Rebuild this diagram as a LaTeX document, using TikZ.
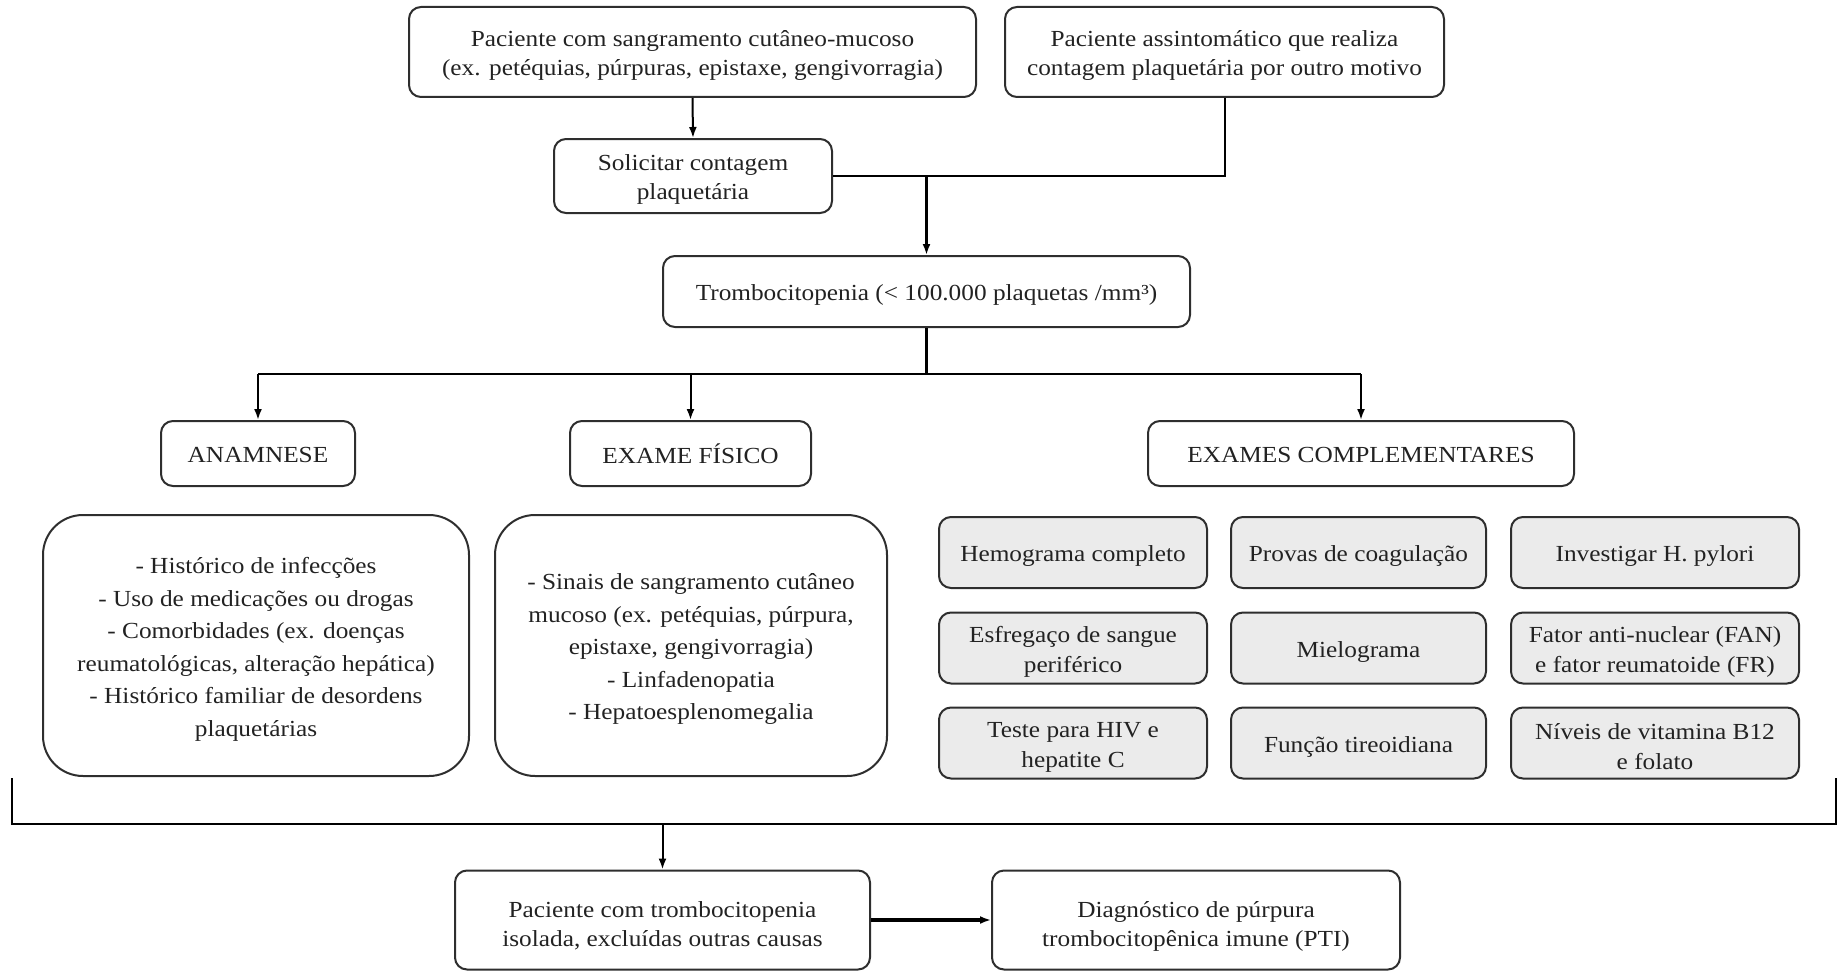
\documentclass[tikz,border=0pt]{standalone}
\usepackage{fontspec}
\setmainfont[FakeStretch=1.1]{Liberation Serif}
\usetikzlibrary{arrows.meta}
\definecolor{boxline}{HTML}{2E2E2E}
\definecolor{txt}{HTML}{222222}
\definecolor{grayfill}{HTML}{EBEBEB}
\newcommand\myst{\rule{0pt}{23.5pt}}
\newcommand\mystlow{\rule{0pt}{28pt}}
\begin{document}
\begin{tikzpicture}[x=1pt,y=-1pt,
  box/.style={draw=boxline, line width=2pt, rounded corners=12pt, align=center,
    inner sep=0pt, text=txt, font=\fontsize{23}{29}\selectfont},
  big/.style={box, rounded corners=40pt, font=\fontsize{23}{32.5}\selectfont},
  cell/.style={box, fill=grayfill, font=\fontsize{23}{30.5}\selectfont},
  sz/.style n args={2}{minimum width=#1pt, minimum height=#2pt},
  conn/.style={line width=2pt, draw=black},
  arr/.style={conn, -{Latex[length=11pt,width=8pt]}}]
\useasboundingbox (0,0) rectangle (1838,971);
% top
\node[box, sz={567}{90}] (A) at (692.5,52) {\myst Paciente com sangramento cutâneo-mucoso\\(ex. petéquias, púrpuras, epistaxe, gengivorragia)};
\node[box, sz={439}{90}] (B) at (1224.5,52) {\myst Paciente assintomático que realiza\\contagem plaquetária por outro motivo};
\node[box, sz={278}{74}] (C) at (693,176) {\myst Solicitar contagem\\plaquetária};
\node[box, sz={527}{71}] (T) at (926.5,291.5) {\myst Trombocitopenia (< 100.000 plaquetas /mm³)};
% headers
\node[box, sz={194}{65}] (AN) at (258,453.5) {\rule{0pt}{18pt}ANAMNESE};
\node[box, sz={241}{65}] (EF) at (690.5,453.5) {EXAME FÍSICO};
\node[box, sz={426}{65}] (EC) at (1361,453.5) {\rule{0pt}{19pt}EXAMES COMPLEMENTARES};
% details
\node[big, sz={426}{261}] (AND) at (256,645.5) {\myst - Histórico de infecções\\- Uso de medicações ou drogas\\- Comorbidades (ex. doenças\\reumatológicas, alteração hepática)\\- Histórico familiar de desordens\\plaquetárias};
\node[big, sz={392}{261}] (EFD) at (691,645.5) {\myst - Sinais de sangramento cutâneo\\mucoso (ex. petéquias, púrpura,\\epistaxe, gengivorragia)\\- Linfadenopatia\\- Hepatoesplenomegalia};
% grid
\node[cell, sz={268}{71}] (g11) at (1073,552.5) {\myst Hemograma completo};
\node[cell, sz={255}{71}] (g12) at (1358.5,552.5) {\myst Provas de coagulação};
\node[cell, sz={288}{71}] (g13) at (1655,552.5) {\myst Investigar H. pylori};
\node[cell, sz={268}{71}] (g21) at (1073,648) {\myst Esfregaço de sangue\\periférico};
\node[cell, sz={255}{71}] (g22) at (1358.5,648) {\myst Mielograma};
\node[cell, sz={288}{71}] (g23) at (1655,648) {\myst Fator anti-nuclear (FAN)\\e fator reumatoide (FR)};
\node[cell, sz={268}{71}] (g31) at (1073,743) {\myst Teste para HIV e\\hepatite C};
\node[cell, sz={255}{71}] (g32) at (1358.5,743) {\myst Função tireoidiana};
\node[cell, sz={288}{71}] (g33) at (1655,743) {\myst Níveis de vitamina B12\\e folato};
% bottom
\node[box, sz={415}{99}] (P) at (662.5,920) {\mystlow Paciente com trombocitopenia\\isolada, excluídas outras causas};
\node[box, sz={408}{99}] (D) at (1196,920) {\mystlow Diagnóstico de púrpura\\trombocitopênica imune (PTI)};
% connectors
\draw[arr] (A.south) -- (C.north);
\coordinate (m) at (T.north |- C.east);
\draw[conn] (C.east) -- (m);
\draw[conn] (B.south) |- (m);
\draw[arr, line width=2.6pt] (m) -- (T.north);
\coordinate (bus) at (0,374);
\draw[conn, line width=2.6pt] (T.south) -- (T.south |- bus);
\draw[conn, line width=2.4pt] (AN.north |- bus) -- (EC.north |- bus);
\draw[arr] (AN.north |- bus) -- (AN.north);
\draw[arr] (EF.north |- bus) -- (EF.north);
\draw[arr] (EC.north |- bus) -- (EC.north);
\coordinate (bl) at (12,778);
\coordinate (br) at (1836,778);
\coordinate (bb) at (0,824);
\draw[conn, line width=2.6pt] (bl) -- (bl |- bb) -- (br |- bb) -- (br);
\draw[arr] (P.north |- bb) -- (P.north);
\draw[arr, line width=3.4pt] (P.east) -- (D.west);
\end{tikzpicture}
\end{document}
